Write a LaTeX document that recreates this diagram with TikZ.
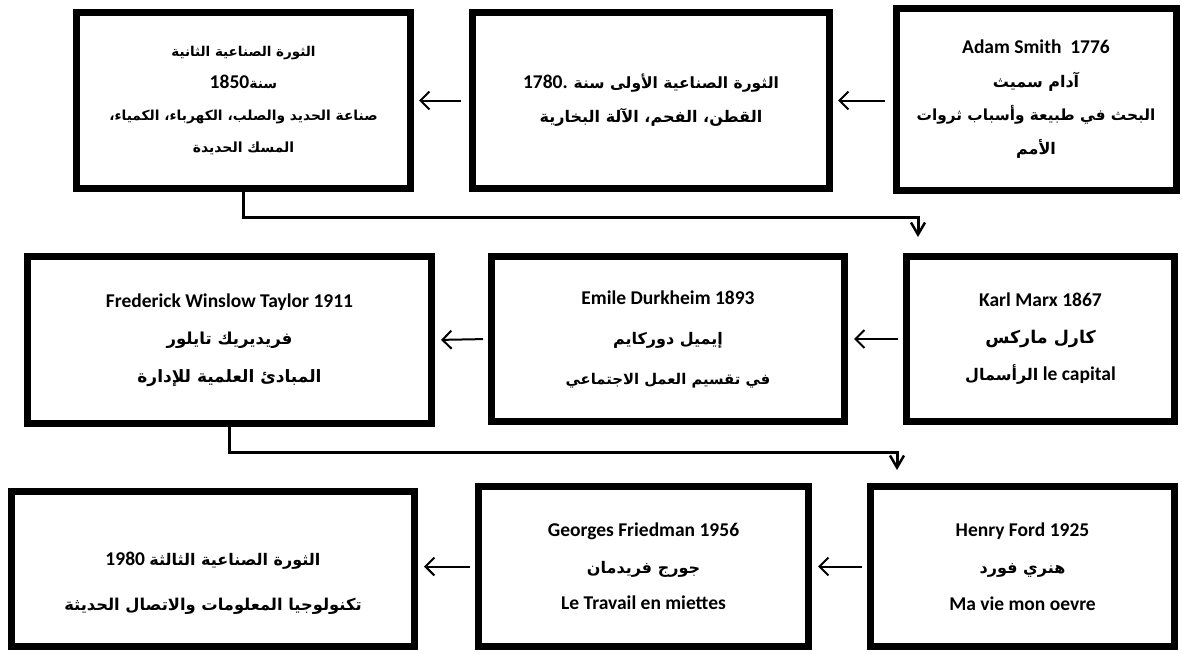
\documentclass[tikz,border=0pt]{standalone}
\usepackage{fontspec}
\setmainfont{Carlito}
\newfontfamily\arabicfont[Script=Arabic]{DejaVu Sans}
\TeXXeTstate=1
\usetikzlibrary{arrows.meta}
\newcommand{\artxt}[2][16]{{\arabicfont\bfseries\fontsize{#1}{34}\selectfont\beginR #2\endR}}
\tikzset{
  box/.style={draw=black, line width=7pt, fill=white, align=center, inner sep=0pt,
    font=\fontsize{19.5}{#1}\selectfont\bfseries},
  box/.default=37pt,
  harrow/.style={line width=2pt, -{Straight Barb[length=9pt,width=18pt,line width=2pt]}},
  conn/.style={line width=3pt, -{Straight Barb[length=12pt,width=14pt,line width=2.5pt]}}
}
\begin{document}
\begin{tikzpicture}[x=1pt,y=-1pt]
\useasboundingbox (0,0) rectangle (1182,653);
% row 1
\node[box=33.5pt, minimum width=280pt, minimum height=182pt] (A) at (1036,99)
  {Adam Smith\ \ 1776\\ \artxt{آدام سميث}\\ \artxt[15.3]{البحث في طبيعة وأسباب ثروات}\\ \artxt{الأمم}};
\node[box=34pt, minimum width=357pt, minimum height=176pt] (B) at (651,100.5)
  {1780. \artxt[15.5]{الثورة الصناعية الأولى سنة}\\ \artxt{القطن، الفحم، الآلة البخارية}};
\node[box=32pt, minimum width=334pt, minimum height=176pt] (C) at (243.5,100.5)
  {\artxt[13.5]{الثورة الصناعية الثانية}\\ 1850\artxt[14]{سنة}\\ \artxt[13.8]{صناعة الحديد والصلب، الكهرباء، الكمياء،}\\ \artxt[14]{المسك الحديدة}};
% row 2
\node[box, minimum width=268pt, minimum height=165pt] (D) at (1040.5,339)
  {Karl Marx 1867\\ \artxt[17.5]{كارل ماركس}\\ \artxt{الرأسمال} le capital};
\node[box=40pt, minimum width=353pt, minimum height=165pt] (E) at (668,339)
  {Emile Durkheim 1893\\ \artxt{إيميل دوركايم}\\ \artxt[14.8]{في تقسيم العمل الاجتماعي}};
\node[box=37.5pt, minimum width=404pt, minimum height=167pt] (F) at (229.5,340)
  {Frederick Winslow Taylor 1911\\ \artxt[16.5]{فريديريك تايلور}\\ \artxt[17]{المبادئ العلمية للإدارة}};
% row 3
\node[box, minimum width=304pt, minimum height=160pt] (G) at (1022.5,566.5)
  {Henry Ford 1925\\ \artxt{هنري فورد}\\ Ma vie mon oevre};
\node[box=36.5pt, minimum width=330pt, minimum height=160pt] (H) at (643.5,566.5)
  {Georges Friedman 1956\\ \artxt{جورج فريدمان}\\ Le Travail en miettes};
\node[box=45pt, minimum width=403pt, minimum height=155pt] (I) at (213,569)
  {\raisebox{-15pt}[0pt][0pt]{\begin{tabular}{@{}c@{}}1980 \artxt{الثورة الصناعية الثالثة}\\ \artxt[16.3]{تكنولوجيا المعلومات والاتصال الحديثة}\end{tabular}}};
% horizontal arrows
\draw[harrow, shorten <=8pt, shorten >=5pt] (A.west|-B.east) -- (B.east);
\draw[harrow, shorten <=8pt, shorten >=5pt] (B.west) -- (C.east);
\draw[harrow, shorten <=5pt, shorten >=6pt] (D.west) -- (E.east);
\draw[harrow, shorten <=5pt, shorten >=6pt] (E.west) -- (F.east);
\draw[harrow, shorten <=5pt, shorten >=6pt] (G.west|-H.east) -- (H.east);
\draw[harrow, shorten <=5pt, shorten >=6pt] (H.west) -- (I.east|-H.east);
% elbow connectors
\coordinate (k1) at (918,217);
\coordinate (k1e) at (918,237);
\draw[conn] (C.south) |- (k1) -- (k1e);
\coordinate (k2) at (897,452);
\coordinate (k2e) at (897,470);
\draw[conn] (F.south) |- (k2) -- (k2e);
\end{tikzpicture}
\end{document}
